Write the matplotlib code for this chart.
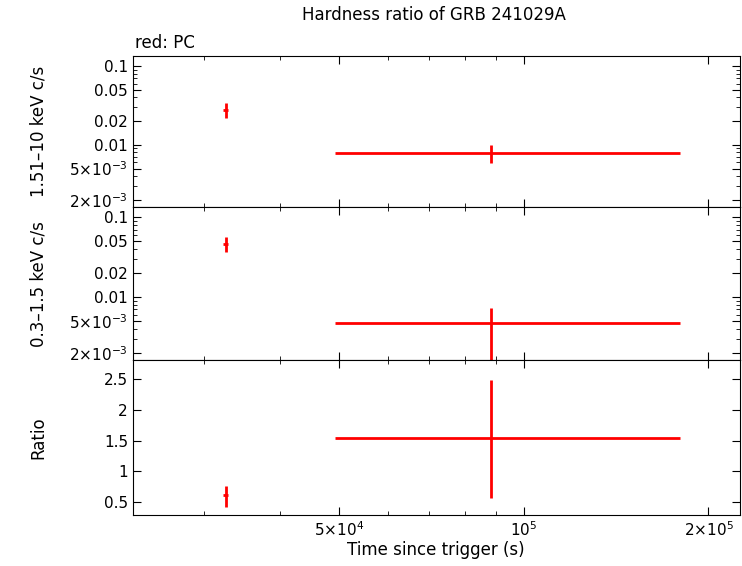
import numpy as np
from matplotlib import pyplot as plt
from matplotlib.ticker import FixedLocator, NullFormatter, LogLocator

# PC data points (time since trigger, s)
t = [32600, 88500]
t_lo = [32300, 49200]
t_hi = [32900, 180000]

hard = [0.0277, 0.0079]
hard_lo = [0.022, 0.0059]
hard_hi = [0.034, 0.0100]

soft = [0.046, 0.0047]
soft_lo = [0.0365, 0.0016]
soft_hi = [0.056, 0.0072]

ratio = [0.61, 1.55]
ratio_lo = [0.42, 0.565]
ratio_hi = [0.76, 2.48]

log_ticks = [0.1, 0.05, 0.02, 0.01, 5e-3, 2e-3]
log_labels = ["0.1", "0.05", "0.02", "0.01", r"5$\times$10$^{-3}$", r"2$\times$10$^{-3}$"]

plt.rcParams['font.family'] = 'DejaVu Sans'
fig = plt.figure(figsize=(7.42, 5.66), dpi=100)
L, W = 0.179, 0.818
ax1 = fig.add_axes([L, 0.634, W, 0.267])
ax2 = fig.add_axes([L, 0.364, W, 0.270])
ax3 = fig.add_axes([L, 0.090, W, 0.274])

def draw(ax, y, lo, hi):
    t_ = np.array(t); y_ = np.array(y)
    xerr = [t_ - np.array(t_lo), np.array(t_hi) - t_]
    yerr = [y_ - np.array(lo), np.array(hi) - y_]
    ax.errorbar(t_, y_, xerr=xerr, yerr=yerr, fmt='none', ecolor='red', elinewidth=2, capsize=0)

for ax, y, lo, hi in [(ax1, hard, hard_lo, hard_hi), (ax2, soft, soft_lo, soft_hi), (ax3, ratio, ratio_lo, ratio_hi)]:
    draw(ax, y, lo, hi)
    ax.set_xscale('log')
    ax.set_xlim(23000, 225000)
    ax.tick_params(which='both', direction='in', top=True, right=True, labelsize=11)
    ax.xaxis.set_major_locator(FixedLocator([5e4, 1e5, 2e5]))
    ax.xaxis.set_minor_locator(LogLocator(subs=np.arange(2, 10)))
    ax.xaxis.set_minor_formatter(NullFormatter())
    ax.tick_params(which='major', length=6)
    ax.tick_params(which='minor', length=3)

for ax in (ax1, ax2):
    ax.set_yscale('log')
    ax.set_ylim(1.62e-3, 0.134)
    ax.yaxis.set_major_locator(FixedLocator(log_ticks))
    ax.set_yticklabels(log_labels)
    ax.yaxis.set_minor_locator(LogLocator(subs=np.arange(2, 10)))
    ax.yaxis.set_minor_formatter(NullFormatter())
    ax.set_xticklabels([])

ax3.set_ylim(0.29, 2.81)
ax3.set_yticks([0.5, 1, 1.5, 2, 2.5])
ax3.set_yticklabels(["0.5", "1", "1.5", "2", "2.5"])
ax3.set_xticklabels([r"5$\times$10$^{4}$", r"10$^{5}$", r"2$\times$10$^{5}$"])

ax1.set_ylabel("1.51–10 keV c/s", fontsize=12)
ax2.set_ylabel("0.3–1.5 keV c/s", fontsize=12)
ax3.set_ylabel("Ratio", fontsize=12)
ax3.set_xlabel("Time since trigger (s)", fontsize=12, labelpad=2)
for ax in (ax1, ax2, ax3):
    ax.yaxis.set_label_coords(-0.14, 0.5)

fig.text(0.585, 0.965, "Hardness ratio of GRB 241029A", ha='center', fontsize=12)
fig.text(0.182, 0.915, "red: PC", ha='left', fontsize=12)

fig.savefig("out.png", dpi=100)
